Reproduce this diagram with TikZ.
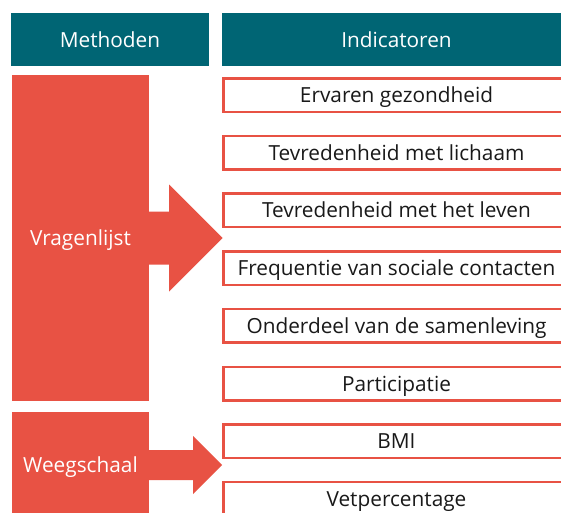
\documentclass[tikz,border=0pt]{standalone}
\usepackage{fontspec}
\setmainfont{Open Sans}
\definecolor{kopteal}{RGB}{0,101,116}
\definecolor{methrood}{RGB}{232,82,68}
\tikzset{
  tekst/.style={font=\fontsize{20.8}{25}\selectfont, text height=15pt, text depth=0pt},
  kop/.style={tekst, fill=kopteal, text=white, minimum height=53pt, inner sep=0pt},
  methode/.style={tekst, fill=methrood, text=white, minimum width=137pt, inner sep=0pt},
  indicator/.style={tekst, draw=methrood, line width=2.5pt, fill=white, text=black!90,
    minimum width=346.5pt, minimum height=33.5pt, inner sep=0pt}
}
\begin{document}
\begin{tikzpicture}[x=1pt,y=-1pt]
\clip (0,0) rectangle (561,512);
\fill[white] (0,0) rectangle (561,512);
% headers
\node[kop, minimum width=198pt] (methoden) at (110,39.5) {Methoden};
\node[kop, minimum width=349pt] (indicatoren) at (396.5,39.5) {Indicatoren};
% methods
\node[methode, minimum height=326pt] (vragenlijst) at (80.5,238) {Vragenlijst};
\node[methode, minimum height=106pt] (weegschaal) at (80.5,465) {Weegschaal};
% block arrows
\fill[methrood] (vragenlijst.east) ++(-5,-26.5) -- ++(25,0) -- ++(0,-27)
  -- ++(53.5,53.5) -- ++(-53.5,53.5) -- ++(0,-27) -- ++(-25,0) -- cycle;
\fill[methrood] (weegschaal.east) ++(-5,-15) -- ++(49,0) -- ++(0,-14)
  -- ++(29,29) -- ++(-29,29) -- ++(0,-14) -- ++(-49,0) -- cycle;
% indicators
\node[indicator] (ervaren) at (396.5,95) {Ervaren gezondheid};
\node[indicator] (lichaam) at (396.5,152.7) {Tevredenheid met lichaam};
\node[indicator] (leven) at (396.5,210.4) {Tevredenheid met het leven};
\node[indicator] (contacten) at (396.5,268.1) {Frequentie van sociale contacten};
\node[indicator] (samenleving) at (396.5,325.8) {Onderdeel van de samenleving};
\node[indicator] (participatie) at (396.5,383.5) {Participatie};
\node[indicator] (bmi) at (396.5,441.2) {BMI};
\node[indicator] (vet) at (396.5,498.9) {Vetpercentage};
\end{tikzpicture}
\end{document}
